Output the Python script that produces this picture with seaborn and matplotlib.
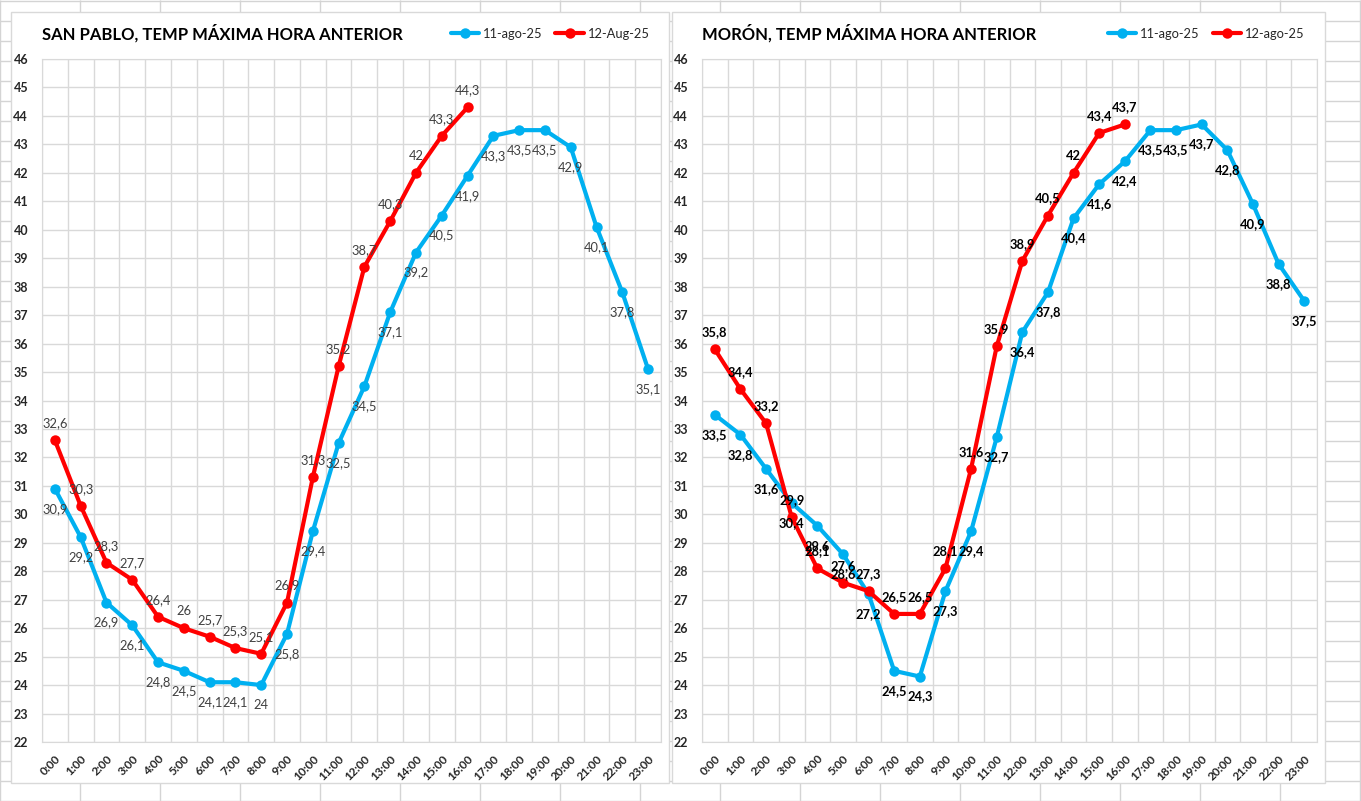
import matplotlib
matplotlib.use("Agg")
import matplotlib.pyplot as plt
import seaborn as sns
from matplotlib.patches import Rectangle

hours = ["0:00", "1:00", "2:00", "3:00", "4:00", "5:00", "6:00", "7:00",
         "8:00", "9:00", "10:00", "11:00", "12:00", "13:00", "14:00", "15:00",
         "16:00", "17:00", "18:00", "19:00", "20:00", "21:00", "22:00", "23:00"]

# San Pablo
sp_11 = [30.9, 29.2, 26.9, 26.1, 24.8, 24.5, 24.1, 24.1, 24.0, 25.8, 29.4, 32.5,
         34.5, 37.1, 39.2, 40.5, 41.9, 43.3, 43.5, 43.5, 42.9, 40.1, 37.8, 35.1]
sp_12 = [32.6, 30.3, 28.3, 27.7, 26.4, 26.0, 25.7, 25.3, 25.1, 26.9, 31.3, 35.2,
         38.7, 40.3, 42.0, 43.3, 44.3]
# Morón
mo_11 = [33.5, 32.8, 31.6, 30.4, 29.6, 28.6, 27.2, 24.5, 24.3, 27.3, 29.4, 32.7,
         36.4, 37.8, 40.4, 41.6, 42.4, 43.5, 43.5, 43.7, 42.8, 40.9, 38.8, 37.5]
mo_12 = [35.8, 34.4, 33.2, 29.9, 28.1, 27.6, 27.3, 26.5, 26.5, 28.1, 31.6, 35.9,
         38.9, 40.5, 42.0, 43.4, 43.7]

y_ticks = list(range(22, 47))

BLUE = "#00B0F0"
RED = "#FF0000"
GRID = "#D9D9D9"

sns.set_style("white")
plt.rcParams["font.family"] = ["Lato", "DejaVu Sans"]

W, H = 1361, 801
fig = plt.figure(figsize=(W / 100, H / 100), dpi=100)

# excel sheet behind the charts
bg = fig.add_axes([0, 0, 1, 1])
bg.set_xlim(0, W)
bg.set_ylim(H, 0)
bg.axis("off")
bg.vlines(range(0, W + 80, 80), 0, H, color="#D4D4D4", lw=1, zorder=1)
bg.hlines([0.7 + 20 * i for i in range(41)], 0, W, color="#D4D4D4", lw=1, zorder=1)
for x0, x1 in [(11, 669), (672, 1325)]:
    bg.add_patch(Rectangle((x0, 12), x1 - x0, 771, facecolor="white",
                           edgecolor=GRID, lw=1, zorder=3))


def fmt(v):
    return f"{v:g}".replace(".", ",")


def panel(px0, px1, title, s11, s12, lab11, lab12, label_color, label_weight, leg_x):
    ax = fig.add_axes([px0 / W, (H - 742) / H, (px1 - px0) / W, (742 - 59) / H])
    x11 = list(range(len(s11)))
    x12 = list(range(len(s12)))
    sns.lineplot(x=x11, y=s11, ax=ax, color=BLUE, lw=3, marker="o",
                 markersize=7.5, markeredgewidth=0, label=lab11)
    sns.lineplot(x=x12, y=s12, ax=ax, color=RED, lw=3, marker="o",
                 markersize=7.5, markeredgewidth=0, label=lab12)
    for x, v in zip(x11, s11):
        ax.annotate(fmt(v), (x, v), xytext=(0, -20), textcoords="offset pixels",
                    ha="center", va="center", fontsize=9.3, fontweight=label_weight,
                    color=label_color)
    for x, v in zip(x12, s12):
        ax.annotate(fmt(v), (x, v), xytext=(0, 17), textcoords="offset pixels",
                    ha="center", va="center", fontsize=9.3, fontweight=label_weight,
                    color=label_color)
    ax.set_xlim(-0.5, len(hours) - 0.5)
    ax.set_ylim(22, 46)
    ax.set_yticks(y_ticks)
    ax.set_yticklabels([str(t) for t in y_ticks], fontsize=9, fontweight="bold")
    ax.set_xticks(range(len(hours)))
    ax.set_xticklabels(hours, rotation=45, ha="right", rotation_mode="anchor",
                       fontsize=8.5, fontweight="bold")
    ax.set_xticks([i - 0.5 for i in range(len(hours) + 1)], minor=True)
    ax.grid(True, which="major", axis="y", color=GRID, lw=1)
    ax.grid(True, which="minor", axis="x", color=GRID, lw=1)
    ax.tick_params(which="both", length=0)
    ax.tick_params(axis="y", pad=10)
    ax.tick_params(axis="x", pad=8)
    for s in ax.spines.values():
        s.set_color(GRID)
    ax.set_xlabel("")
    ax.set_ylabel("")
    ax.set_facecolor("none")
    fig.text(px0 / W, 1 - 33 / H, title, fontsize=12, fontweight="bold",
             ha="left", va="center", color="black")
    ax.legend(loc="center right", bbox_to_anchor=(leg_x / W, 1 - 34 / H),
              bbox_transform=fig.transFigure, ncol=2, frameon=False,
              fontsize=9.3, handlelength=2.2, columnspacing=1.0,
              handletextpad=0.3, borderpad=0)
    return ax


panel(42, 661, "SAN PABLO, TEMP MÁXIMA HORA ANTERIOR", sp_11, sp_12,
      "11-ago-25", "12-Aug-25", "#404040", "normal", 656)
panel(702, 1317, "MORÓN, TEMP MÁXIMA HORA ANTERIOR", mo_11, mo_12,
      "11-ago-25", "12-ago-25", "black", "bold", 1311)

fig.savefig("out.png", dpi=100)
